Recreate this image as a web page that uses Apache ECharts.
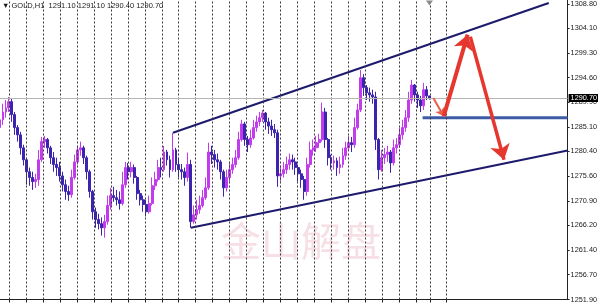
<!DOCTYPE html>
<html><head><meta charset="utf-8">
<script src="https://cdn.jsdelivr.net/npm/echarts@6/dist/echarts.min.js"></script>
<style>html,body{margin:0;padding:0;background:#fff}#c{width:600px;height:303px}</style>
</head><body><div id="c"></div>
<script>
// ---- data ----
const symbolName = 'GOLD,H1';
// hourly bars [open, close, low, high], bar index = position on the time axis
const ohlcBars = [
[1285.0,1286.5,1283.6,1289.4],[1286.5,1288.0,1285.5,1289.6],[1288.0,1288.8,1286.9,1290.3],[1288.8,1290.0,1288.0,1290.9],
[1290.0,1287.5,1286.1,1290.5],[1287.5,1285.0,1283.6,1288.0],[1285.0,1283.6,1282.3,1285.5],[1283.6,1281.1,1279.8,1284.2],
[1281.1,1278.8,1277.7,1281.7],[1278.8,1276.5,1274.0,1279.2],[1276.5,1275.4,1273.8,1277.3],[1275.4,1274.6,1273.0,1276.5],
[1274.6,1275.0,1273.4,1276.1],[1275.0,1278.8,1273.8,1280.7],[1278.8,1282.3,1278.4,1283.2],[1282.3,1282.7,1281.1,1283.4],
[1282.7,1281.1,1280.0,1283.0],[1281.1,1279.2,1278.0,1281.5],[1279.2,1277.9,1276.5,1280.3],[1277.9,1277.3,1275.7,1279.2],
[1277.3,1275.7,1274.6,1278.4],[1275.7,1274.0,1272.7,1276.5],[1274.0,1272.7,1271.1,1275.0],[1272.7,1272.1,1270.9,1273.8],
[1272.1,1275.4,1271.5,1276.9],[1275.4,1278.4,1275.0,1279.8],[1278.4,1280.7,1277.9,1281.5],[1280.7,1281.1,1279.6,1282.3],
[1281.1,1279.2,1278.0,1281.5],[1279.2,1276.5,1275.0,1279.6],[1276.5,1272.7,1271.5,1276.9],[1272.7,1268.8,1267.3,1273.0],
[1268.8,1267.3,1265.7,1269.6],[1267.3,1266.5,1265.4,1268.4],[1266.5,1265.7,1264.2,1267.7],[1265.7,1266.9,1263.8,1268.2],
[1266.9,1270.0,1266.3,1271.9],[1270.0,1271.9,1269.2,1273.4],[1271.9,1271.5,1270.7,1273.6],[1271.5,1271.1,1270.0,1273.0],
[1271.1,1270.4,1269.2,1272.7],[1270.4,1274.0,1270.0,1276.5],[1274.0,1277.3,1273.4,1278.4],[1277.3,1276.5,1275.0,1278.2],
[1276.5,1277.3,1275.4,1278.4],[1277.3,1275.4,1274.2,1277.9],[1275.4,1272.3,1271.1,1275.7],[1272.3,1271.1,1270.0,1273.0],
[1271.1,1270.2,1268.8,1271.9],[1270.2,1268.8,1267.9,1271.1],[1268.8,1270.4,1268.4,1271.9],[1270.4,1273.8,1270.0,1275.4],
[1273.8,1275.0,1273.0,1276.5],[1275.0,1277.3,1274.6,1278.8],[1277.3,1276.9,1275.4,1279.2],[1276.9,1280.3,1276.5,1281.5],
[1280.3,1278.8,1277.7,1280.7],[1278.8,1276.9,1275.4,1279.6],[1276.9,1280.7,1276.5,1284.0],[1280.7,1277.9,1276.5,1281.1],
[1277.9,1276.9,1275.4,1279.2],[1276.9,1276.5,1275.0,1278.0],[1276.5,1275.4,1273.8,1277.3],[1275.4,1277.9,1274.6,1280.2],
[1277.9,1266.9,1265.7,1278.8],[1266.9,1268.2,1266.5,1270.0],[1268.2,1269.2,1267.3,1271.1],[1269.2,1270.0,1268.4,1271.9],
[1270.0,1271.5,1269.6,1273.0],[1271.5,1273.4,1271.1,1275.4],[1273.4,1280.3,1273.0,1282.1],[1280.3,1279.8,1278.0,1281.5],
[1279.8,1278.8,1277.3,1280.7],[1278.8,1278.4,1276.9,1280.0],[1278.4,1276.5,1275.0,1278.8],[1276.5,1273.4,1271.7,1276.9],
[1273.4,1275.4,1272.7,1276.9],[1275.4,1276.9,1274.6,1278.4],[1276.9,1277.9,1276.1,1279.2],[1277.9,1279.2,1277.3,1280.7],
[1279.2,1282.7,1278.8,1284.2],[1282.7,1285.7,1282.3,1286.5],[1285.7,1282.7,1281.5,1286.1],[1282.7,1281.7,1280.3,1283.4],
[1281.7,1283.0,1281.1,1284.6],[1283.0,1285.0,1282.7,1286.5],[1285.0,1286.1,1284.2,1287.3],[1286.1,1286.9,1285.3,1288.0],
[1286.9,1287.8,1286.1,1288.4],[1287.8,1286.1,1284.6,1288.0],[1286.1,1285.3,1283.8,1286.9],[1285.3,1284.6,1283.4,1286.5],
[1284.6,1284.0,1283.0,1285.7],[1284.0,1275.7,1273.6,1284.6],[1275.7,1276.1,1274.6,1277.7],[1276.1,1276.9,1275.4,1278.4],
[1276.9,1277.9,1276.1,1279.4],[1277.9,1278.8,1276.9,1280.0],[1278.8,1278.4,1276.9,1279.8],[1278.4,1277.3,1275.9,1279.2],
[1277.3,1276.1,1274.6,1277.9],[1276.1,1275.0,1273.4,1276.9],[1275.0,1272.7,1271.1,1275.7],[1272.7,1277.9,1271.9,1279.2],
[1277.9,1280.7,1277.3,1282.3],[1280.7,1281.1,1279.6,1282.7],[1281.1,1282.1,1280.3,1283.4],[1282.1,1282.7,1281.1,1283.8],
[1282.7,1288.0,1282.3,1289.8],[1288.0,1282.7,1281.1,1288.8],[1282.7,1279.2,1277.7,1283.0],[1279.2,1278.2,1276.9,1279.8],
[1278.2,1278.6,1276.9,1279.6],[1278.6,1277.3,1275.7,1279.2],[1277.3,1277.9,1276.1,1279.4],[1277.9,1279.6,1277.3,1281.1],
[1279.6,1281.1,1278.8,1282.3],[1281.1,1282.1,1280.7,1283.4],[1282.1,1281.7,1280.3,1283.2],[1281.7,1285.0,1281.1,1286.9],
[1285.0,1288.4,1284.6,1289.6],[1288.4,1294.6,1288.0,1296.1],[1294.6,1292.7,1291.1,1295.3],[1292.7,1291.7,1290.3,1293.2],
[1291.7,1291.3,1290.0,1292.7],[1291.3,1290.9,1289.6,1292.3],[1290.9,1282.7,1280.7,1291.9],[1282.7,1276.9,1275.0,1283.0],
[1276.9,1279.2,1276.5,1280.7],[1279.2,1279.8,1278.0,1281.1],[1279.8,1280.3,1278.4,1281.5],[1280.3,1278.2,1276.3,1280.7],
[1278.2,1281.1,1277.7,1282.7],[1281.1,1281.7,1280.0,1283.0],[1281.7,1283.6,1281.1,1285.0],[1283.6,1285.0,1282.7,1286.5],
[1285.0,1286.9,1284.2,1288.4],[1286.9,1290.3,1286.1,1291.9],[1290.3,1293.2,1289.6,1294.2],[1293.2,1291.3,1290.0,1293.4],
[1291.3,1290.3,1288.8,1291.9],[1290.3,1289.2,1288.0,1291.1],[1289.2,1292.3,1288.4,1293.6],[1292.3,1291.1,1290.3,1293.0],
[1291.1,1290.7,1290.4,1291.1]
];
const priceTicks = [1308.80,1304.10,1299.30,1294.60,1289.90,1285.10,1280.40,1275.60,1270.90,1266.20,1261.40,1256.70,1251.90];
const priceMin = 1251.90, priceMax = 1309.57;
const timeMax = 190.33;
// time-grid (period) positions, in bar units
const timeGrid = [3.13,8.81,14.49,20.17,25.85,31.53,37.21,42.89,48.57,54.25,59.93,65.61,71.29,76.97,82.65,88.33,94.01,99.69,105.37,111.05,116.73,122.41,128.09,133.77,139.45,144.23,149.77];
const lastPrice = 1290.70;
// drawn analysis objects, [bar, price]
const upperChannel = [[58, 1284.0], [184, 1309.0]];
const lowerChannel = [[64, 1265.7], [190.33, 1280.6]];
const supportLevel = [[141.7, 1286.9], [190.33, 1286.9]];
const smallArrow = [[145.3, 1290.7], [148.8, 1287.2]];
const upArrow = [[148.8, 1287.2], [156.8, 1302.9]];
const downArrow = [[157.7, 1302.5], [169.0, 1278.8]];
const watermark = '金山解盘';

// ---- chart ----
const chart = echarts.init(document.getElementById('c'), null, {renderer: 'canvas'});
const last = ohlcBars[ohlcBars.length - 1];
const fmt = v => v.toFixed(2);
const FONT = 'Liberation Sans';

function arrowLine(pts, color, width, size) {
  return {
    type: 'line', data: [], z: 6, silent: true,
    markLine: {
      silent: true, animation: false,
      symbol: ['none', 'arrow'], symbolSize: size,
      label: {show: false},
      lineStyle: {color: color, width: width, type: 'solid'},
      data: [[{coord: pts[0]}, {coord: pts[1]}]]
    }
  };
}

chart.setOption({
  animation: false,
  backgroundColor: '#ffffff',
  title: {
    text: '▼ ' + symbolName + '  ' + fmt(last[0]) + ' ' + fmt(last[3]) + ' ' + fmt(last[2]) + ' ' + fmt(last[1]),
    left: 2, top: 2, padding: 0,
    textStyle: {fontSize: 7.5, fontWeight: 'normal', color: '#1a1a1a', fontFamily: FONT}
  },
  graphic: [{
    type: 'text', left: 221, top: 221, z: 0, silent: true,
    style: {text: watermark, fontSize: 40, fill: '#f6dfe5', fontFamily: 'Noto Sans CJK SC'}
  }],
  grid: {left: 0, right: 29, top: 0, bottom: 3, containLabel: false},
  xAxis: {
    type: 'value', min: 0, max: timeMax,
    axisLine: {show: true, onZero: false, lineStyle: {color: '#222', width: 1}},
    axisTick: {show: true, customValues: timeGrid, length: 3, lineStyle: {color: '#222'}},
    axisLabel: {show: false},
    splitLine: {show: false}
  },
  yAxis: {
    type: 'value', position: 'right', min: priceMin, max: priceMax, scale: true,
    axisLine: {show: true, onZero: false, lineStyle: {color: '#222', width: 1}},
    axisTick: {show: true, customValues: priceTicks, length: 2, lineStyle: {color: '#222'}},
    axisLabel: {show: true, customValues: priceTicks, margin: 3, fontSize: 7.3, color: '#222', fontFamily: FONT, formatter: v => fmt(v)},
    splitLine: {show: false}
  },
  series: [
    {
      type: 'line', data: [], z: 1, silent: true,
      markLine: {
        silent: true, animation: false, symbol: ['none', 'none'],
        label: {show: false},
        lineStyle: {color: '#3a3a3a', width: 1, type: [2, 2]},
        data: timeGrid.map(t => ({xAxis: t}))
      }
    },
    {
      type: 'line', data: [], z: 1, silent: true,
      markLine: {
        silent: true, animation: false, symbol: ['none', 'none'],
        lineStyle: {color: '#b4b4b4', width: 1, type: 'solid'},
        label: {show: true, position: 'end', distance: 1, formatter: () => fmt(lastPrice),
          backgroundColor: '#000', color: '#fff', fontSize: 7.3, fontFamily: FONT, padding: [1, 1, 0, 2]},
        data: [{yAxis: lastPrice}]
      }
    },
    {
      type: 'candlestick', z: 3,
      data: ohlcBars.map((b, i) => [i, b[0], b[1], b[2], b[3]]),
      encode: {x: 0, y: [1, 2, 3, 4]},
      barWidth: 2.4,
      itemStyle: {color: '#c23ced', color0: '#3a24b0', borderColor: '#c23ced', borderColor0: '#3a24b0', borderWidth: 1},
      markPoint: {
        silent: true, animation: false,
        symbol: 'triangle', symbolRotate: 180, symbolSize: [7, 5], symbolOffset: [0, 3],
        itemStyle: {color: '#8a8a8a'}, label: {show: false},
        data: [{coord: [ohlcBars.length - 1, priceMax]}]
      }
    },
    {type: 'line', z: 4, data: upperChannel, showSymbol: false, symbol: 'none', lineStyle: {color: '#1d1a6e', width: 2}, silent: true},
    {type: 'line', z: 4, data: lowerChannel, showSymbol: false, symbol: 'none', lineStyle: {color: '#1d1a6e', width: 2}, silent: true},
    {type: 'line', z: 4, data: supportLevel, showSymbol: false, symbol: 'none', lineStyle: {color: '#3d5ba6', width: 3}, silent: true},
    arrowLine(smallArrow, '#e8604c', 2, 8),
    arrowLine(upArrow, '#e6372e', 4, 15),
    arrowLine(downArrow, '#e6372e', 3.5, 15)
  ]
});
</script></body></html>
